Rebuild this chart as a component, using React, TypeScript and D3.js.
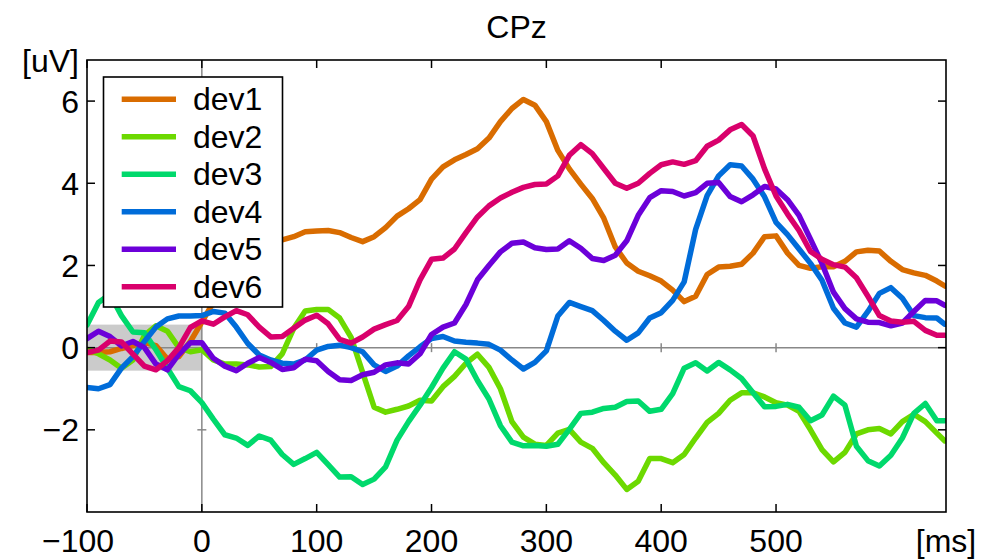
import React from "react";
import * as d3 from "d3";

const times: number[] = [...d3.range(-100, 641, 10), 647];
const seriesNames = ["dev1", "dev2", "dev3", "dev4", "dev5", "dev6"];
const seriesColors = ["#d96c00", "#6cd900", "#00d96c", "#006cd9", "#6c00d9", "#d9006c"];

const dev1 = [
  -0.12, -0.12, -0.1, -0.02, 0.05, 0.12, 0.05, -0.28, -0.22, 0.15,
  0.62, 1.1, 1.5, 1.9, 2.2, 2.4, 2.5, 2.62, 2.7, 2.82,
  2.84, 2.85, 2.8, 2.68, 2.58, 2.7, 2.92, 3.2, 3.38, 3.6,
  4.1, 4.4, 4.57, 4.7, 4.84, 5.1, 5.5, 5.82, 6.04, 5.9,
  5.5, 4.8, 4.35, 3.98, 3.63, 3.15, 2.45, 2.06, 1.86, 1.75,
  1.62, 1.4, 1.12, 1.25, 1.78, 1.96, 1.98, 2.03, 2.3, 2.7,
  2.72, 2.3, 2.0, 1.93, 1.97, 1.97, 2.1, 2.33, 2.37, 2.35,
  2.1, 1.9, 1.82, 1.76, 1.62, 1.5,
];
const dev2 = [
  -0.04, -0.15, -0.3, -0.5, -0.3, 0.3, 0.53, 0.4, 0.0, -0.1,
  -0.05, -0.3, -0.4, -0.4, -0.42, -0.47, -0.46, -0.15, 0.47, 0.89,
  0.93, 0.93, 0.72, 0.25, -0.6, -1.45, -1.57, -1.5, -1.42, -1.28,
  -1.3, -0.95, -0.7, -0.38, -0.16, -0.48, -1.0, -1.8, -2.18, -2.35,
  -2.38, -2.08, -1.99, -2.3, -2.45, -2.8, -3.1, -3.45, -3.25, -2.7,
  -2.7, -2.8, -2.6, -2.2, -1.82, -1.6, -1.28, -1.1, -1.1, -1.2,
  -1.34, -1.4, -1.55, -2.0, -2.48, -2.78, -2.55, -2.1, -2.0, -1.97,
  -2.1, -1.8, -1.62, -1.8, -2.08, -2.27,
];
const dev3 = [
  0.55, 1.1, 1.3, 0.78, 0.38, 0.36, -0.05, -0.5, -0.95, -1.05,
  -1.34, -1.74, -2.12, -2.2, -2.38, -2.15, -2.25, -2.6, -2.84, -2.7,
  -2.55, -2.85, -3.15, -3.14, -3.33, -3.2, -2.9, -2.25, -1.8, -1.4,
  -0.97, -0.5, -0.1, -0.28, -0.8, -1.25, -1.9, -2.3, -2.39, -2.38,
  -2.4, -2.35, -1.99, -1.6, -1.57, -1.48, -1.45, -1.31, -1.3, -1.55,
  -1.5, -1.12, -0.5, -0.37, -0.57, -0.36, -0.54, -0.75, -1.1, -1.44,
  -1.43, -1.38, -1.45, -1.78, -1.64, -1.18, -1.4, -2.4, -2.75, -2.88,
  -2.62, -2.2, -1.6, -1.36, -1.78, -1.78,
];
const dev4 = [
  -0.97, -1.0, -0.9, -0.5, -0.22, 0.15, 0.5, 0.7, 0.77, 0.77,
  0.78, 0.88, 0.84, 0.5, 0.1, -0.18, -0.3, -0.38, -0.4, -0.3,
  -0.06, 0.03, 0.06, 0.0, -0.1, -0.42, -0.58, -0.45, -0.2, 0.02,
  0.22, 0.27, 0.16, 0.13, 0.11, 0.08, -0.06, -0.3, -0.52, -0.36,
  -0.08, 0.77, 1.1, 1.0, 0.9, 0.66, 0.4, 0.18, 0.36, 0.72,
  0.85, 1.15, 1.6, 2.88, 3.7, 4.18, 4.45, 4.42, 4.1, 3.67,
  3.05, 2.75, 2.4, 2.05, 1.64, 0.96, 0.6, 0.5, 0.88, 1.32,
  1.46, 1.2, 0.78, 0.73, 0.72, 0.57,
];
const dev5 = [
  0.22, 0.4, 0.27, 0.04, 0.15, 0.0, -0.4, -0.54, -0.16, 0.12,
  0.12, -0.26, -0.45, -0.56, -0.38, -0.24, -0.36, -0.53, -0.49, -0.28,
  -0.32, -0.58, -0.78, -0.8, -0.66, -0.6, -0.42, -0.37, -0.4, -0.15,
  0.32, 0.5, 0.6, 1.05, 1.65, 2.0, 2.33, 2.54, 2.57, 2.43,
  2.39, 2.4, 2.6, 2.42, 2.17, 2.12, 2.25, 2.6, 3.22, 3.65,
  3.82, 3.8, 3.69, 3.77, 4.0, 4.02, 3.68, 3.55, 3.72, 3.92,
  3.86, 3.6, 3.22, 2.64, 2.05, 1.35, 0.95, 0.7, 0.62, 0.61,
  0.53, 0.6, 0.88, 1.15, 1.14, 1.03,
];
const dev6 = [
  -0.12, -0.06, 0.16, 0.14, -0.16, -0.45, -0.54, -0.32, 0.0, 0.49,
  0.65, 0.57, 0.75, 0.9, 0.8, 0.5, 0.26, 0.27, 0.47, 0.67,
  0.79, 0.58, 0.2, 0.11, 0.26, 0.45, 0.56, 0.66, 1.0, 1.65,
  2.15, 2.18, 2.4, 2.8, 3.18, 3.45, 3.64, 3.78, 3.9, 3.97,
  3.98, 4.18, 4.68, 4.94, 4.72, 4.36, 4.0, 3.88, 4.0, 4.24,
  4.45, 4.52, 4.46, 4.55, 4.9, 5.05, 5.3, 5.43, 5.15, 4.35,
  3.69, 3.25, 2.85, 2.34, 2.15, 2.02, 1.96, 1.7, 1.25, 0.78,
  0.65, 0.62, 0.64, 0.42, 0.3, 0.3,
];
const seriesValues = [dev1, dev2, dev3, dev4, dev5, dev6];

const xTicks = [-100, 0, 100, 200, 300, 400, 500];
const yTicks = [-2, 0, 2, 4, 6];
const xDomain = [-100, 648];
const yDomain = [-4, 7];
const baselineBand = [-100, 0, -0.56, 0.56];

const FONT = "'Liberation Sans', Arial, Helvetica, sans-serif";
const fmt = (v: number) => (v < 0 ? "\u2212" + Math.abs(v) : String(v));

export default function App() {
  const W = 995, H = 559;
  const L = 87, R = 946, T = 60, B = 512;
  const x = d3.scaleLinear().domain(xDomain).range([L, R]);
  const y = d3.scaleLinear().domain(yDomain).range([B, T]);
  const line = d3
    .line<[number, number]>()
    .x((d) => x(d[0]))
    .y((d) => y(d[1]));
  const tk = 8;
  const zt = 4.5;
  const legX = 103.5, legY = 77, legW = 179, legH = 230;
  const rowH = 37.5;

  return (
    <div>
      <style>{`body{margin:0}`}</style>
      <svg width={W} height={H} style={{ display: "block", background: "#fff" }} fontFamily={FONT}>
        <defs>
          <clipPath id="plot">
            <rect x={L} y={T} width={R - L} height={B - T} />
          </clipPath>
        </defs>
        <rect x={0} y={0} width={W} height={H} fill="#fff" />
        <rect
          x={x(baselineBand[0])}
          y={y(baselineBand[3])}
          width={x(baselineBand[1]) - x(baselineBand[0])}
          height={y(baselineBand[2]) - y(baselineBand[3])}
          fill="#cbcbcb"
        />
        <line x1={L} x2={R} y1={y(0)} y2={y(0)} stroke="#888" strokeWidth={1.5} />
        <line x1={x(0)} x2={x(0)} y1={T} y2={B} stroke="#888" strokeWidth={1.5} />
        {xTicks.filter((t) => t !== 0 && t !== -100).map((t) => (
          <line key={"zx" + t} x1={x(t)} x2={x(t)} y1={y(0) - zt} y2={y(0) + zt} stroke="#888" strokeWidth={1.5} />
        ))}
        {yTicks.filter((v) => v !== 0).map((v) => (
          <line key={"zy" + v} x1={x(0) - zt} x2={x(0) + zt} y1={y(v)} y2={y(v)} stroke="#888" strokeWidth={1.5} />
        ))}
        <g clipPath="url(#plot)">
          {seriesValues.map((vals, i) => (
            <path
              key={seriesNames[i]}
              d={line(times.map((t, j) => [t, vals[j]] as [number, number])) || ""}
              fill="none"
              stroke={seriesColors[i]}
              strokeWidth={5.5}
              strokeLinejoin="round"
              strokeLinecap="round"
            />
          ))}
        </g>
        <rect x={L} y={T} width={R - L} height={B - T} fill="none" stroke="#000" strokeWidth={1.6} />
        {xTicks.map((t) => (
          <g key={"xt" + t}>
            <line x1={x(t)} x2={x(t)} y1={B} y2={B - tk} stroke="#000" strokeWidth={1.5} />
            <line x1={x(t)} x2={x(t)} y1={T} y2={T + tk} stroke="#000" strokeWidth={1.5} />
            <text x={x(t) + (t < 0 ? -9 : 0)} y={552} textAnchor="middle" fontSize={32} fill="#000">
              {fmt(t)}
            </text>
          </g>
        ))}
        <text x={R} y={552} textAnchor="middle" fontSize={32} fill="#000">
          [ms]
        </text>
        {yTicks.map((v) => (
          <g key={"yt" + v}>
            <line x1={L} x2={L + tk} y1={y(v)} y2={y(v)} stroke="#000" strokeWidth={1.5} />
            <line x1={R} x2={R - tk} y1={y(v)} y2={y(v)} stroke="#000" strokeWidth={1.5} />
            <text x={79} y={y(v) + 11.5} textAnchor="end" fontSize={32} fill="#000">
              {fmt(v)}
            </text>
          </g>
        ))}
        <text x={79} y={y(7) + 11.5} textAnchor="end" fontSize={32} fill="#000">
          [uV]
        </text>
        <text x={(L + R) / 2} y={38} textAnchor="middle" fontSize={32} fill="#000">
          CPz
        </text>
        <rect x={legX} y={legY} width={legW} height={legH} fill="#fff" stroke="#000" strokeWidth={1.6} />
        {seriesNames.map((n, i) => {
          const ly = 99.3 + i * rowH;
          return (
            <g key={"lg" + n}>
              <line x1={121.7} x2={176} y1={ly} y2={ly} stroke={seriesColors[i]} strokeWidth={5.5} />
              <text x={193} y={ly + 11} fontSize={32} fill="#000">
                {n}
              </text>
            </g>
          );
        })}
      </svg>
    </div>
  );
}
